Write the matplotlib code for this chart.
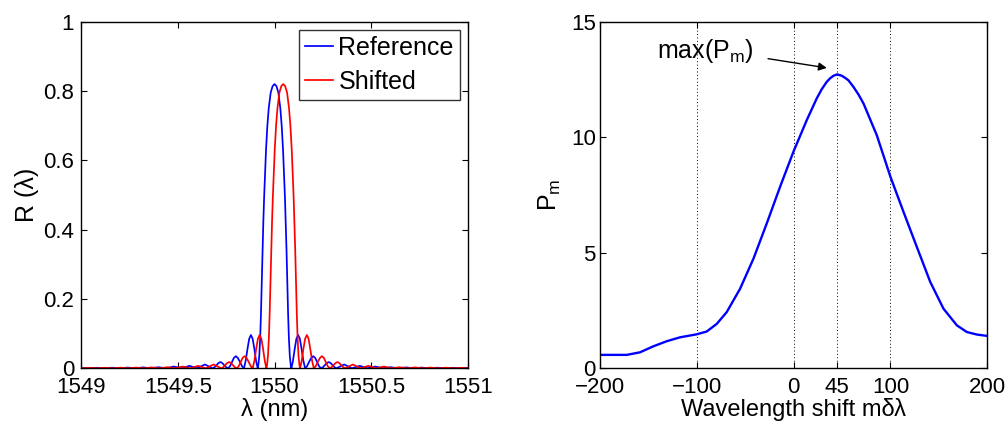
import matplotlib
matplotlib.use("Agg")
import matplotlib.pyplot as plt
import numpy as np

plt.rcParams['font.family'] = ['Liberation Sans', 'DejaVu Sans']
plt.rcParams['mathtext.fontset'] = 'custom'
plt.rcParams['mathtext.rm'] = 'Liberation Sans'
plt.rcParams['mathtext.it'] = 'Liberation Sans'

# ---------------- Left panel data: reflection spectrum (offset from Bragg centre, nm) -------------
spectrum_offset = [
    -1.10, -1.04, -1.00, -0.96, -0.92, -0.88, -0.84, -0.80, -0.76, -0.72, -0.68, -0.64, -0.60,
    -0.56, -0.54, -0.52, -0.50,
    -0.48, -0.46, -0.44, -0.42,
    -0.40, -0.38, -0.36, -0.34,
    -0.320, -0.310, -0.300, -0.290, -0.280, -0.270, -0.260, -0.250,
    -0.240, -0.230, -0.220, -0.210, -0.200, -0.190, -0.178, -0.168,
    -0.158, -0.149, -0.140, -0.131, -0.122, -0.113, -0.104, -0.095,
    -0.087, -0.084, -0.079, -0.074, -0.070, -0.066, -0.062, -0.058, -0.054, -0.049, -0.044,
    -0.037, -0.030, -0.020, -0.010,
    0.000,
    0.010, 0.020, 0.030, 0.037,
    0.044, 0.049, 0.054, 0.058, 0.062, 0.066, 0.070, 0.074, 0.079, 0.084, 0.087,
    0.095, 0.104, 0.113, 0.122, 0.131, 0.140, 0.149, 0.158,
    0.168, 0.178, 0.190, 0.200, 0.210, 0.220, 0.230, 0.240,
    0.250, 0.260, 0.270, 0.280, 0.290, 0.300, 0.310, 0.320,
    0.34, 0.36, 0.38, 0.40,
    0.42, 0.44, 0.46, 0.48,
    0.50, 0.52, 0.54, 0.56,
    0.60, 0.64, 0.68, 0.72, 0.76, 0.80, 0.84, 0.88, 0.92, 0.96, 1.00, 1.04, 1.10,
]
reflectance = [
    0.0, 0.0, 0.0012, 0.0, 0.0014, 0.0, 0.0017, 0.0, 0.0020, 0.0, 0.0025, 0.0, 0.0030,
    0.0, 0.0025, 0.005, 0.0025,
    0.0, 0.0035, 0.007, 0.0035,
    0.0, 0.0055, 0.011, 0.0055,
    0.0, 0.003, 0.009, 0.015, 0.018, 0.015, 0.009, 0.003,
    0.0, 0.006, 0.018, 0.030, 0.035, 0.030, 0.018, 0.006,
    0.0, 0.022, 0.055, 0.085, 0.096, 0.085, 0.055, 0.020,
    0.0, 0.008, 0.035, 0.090, 0.160, 0.250, 0.340, 0.420, 0.490, 0.560, 0.630,
    0.700, 0.750, 0.795, 0.814,
    0.820,
    0.814, 0.795, 0.750, 0.700,
    0.630, 0.560, 0.490, 0.420, 0.340, 0.250, 0.160, 0.090, 0.035, 0.008, 0.0,
    0.020, 0.055, 0.085, 0.096, 0.085, 0.055, 0.022, 0.0,
    0.006, 0.018, 0.030, 0.035, 0.030, 0.018, 0.006, 0.0,
    0.003, 0.009, 0.015, 0.018, 0.015, 0.009, 0.003, 0.0,
    0.0055, 0.011, 0.0055, 0.0,
    0.0035, 0.007, 0.0035, 0.0,
    0.0025, 0.005, 0.0025, 0.0,
    0.0030, 0.0, 0.0025, 0.0, 0.0020, 0.0, 0.0017, 0.0, 0.0014, 0.0, 0.0012, 0.0, 0.0,
]
reference_centre_nm = 1550.000
shifted_centre_nm = 1550.045

series_names = ["Reference", "Shifted"]
left_xticks = [1549, 1549.5, 1550, 1550.5, 1551]
left_xticklabels = ["1549", "1549.5", "1550", "1550.5", "1551"]
left_yticks = [0, 0.2, 0.4, 0.6, 0.8, 1]
left_yticklabels = ["0", "0.2", "0.4", "0.6", "0.8", "1"]

# ---------------- Right panel data: P_m versus wavelength shift -------------
shift_m = [-200, -172.4, -158.7, -144.9, -131.1, -117.3, -100.1, -89.8, -79.4, -69.1,
           -55.3, -41.5, -27.8, -14.0, -0.2, 13.6, 23.9, 29.1, 34.3, 37.7, 41.2, 45.0,
           49.8, 53.2, 56.7, 61.8, 67.0, 72.2, 85.9, 100.0, 113.5, 127.3, 141.1, 154.8,
           168.6, 178.9, 189.3, 200]
p_m = [0.58, 0.58, 0.69, 0.95, 1.17, 1.34, 1.47, 1.59, 1.92, 2.43,
       3.44, 4.74, 6.26, 7.85, 9.37, 10.74, 11.68, 12.08, 12.40, 12.55, 12.66, 12.72,
       12.66, 12.57, 12.46, 12.18, 11.85, 11.46, 10.09, 8.29, 6.77, 5.25, 3.74, 2.58,
       1.86, 1.57, 1.46, 1.40]
right_xticks = [-200, -100, 0, 45, 100, 200]
right_yticks = [0, 5, 10, 15]
grid_lines_x = [-100, 0, 45, 100]
peak_label_xy = (-141, 13.44)
peak_arrow_tail = (-26.4, 13.40)
peak_arrow_tip = (34.3, 13.0)

# ---------------- Figure -------------
fig = plt.figure(figsize=(10.08, 4.22), dpi=100)
axL = fig.add_axes([0.0804, 0.1273, 0.3839, 0.8213])
axR = fig.add_axes([0.5952, 0.1273, 0.3842, 0.8213])

off = np.array(spectrum_offset)
axL.plot(reference_centre_nm + off, reflectance, color=(0, 0, 1), lw=1.25, label=series_names[0])
axL.plot(shifted_centre_nm + off, reflectance, color=(1, 0, 0), lw=1.25, label=series_names[1])
axL.set_xlim(1549, 1551)
axL.set_ylim(0, 1)
axL.set_xticks(left_xticks)
axL.set_xticklabels(left_xticklabels)
axL.set_yticks(left_yticks)
axL.set_yticklabels(left_yticklabels)
axL.set_xlabel("λ (nm)", fontsize=17)
axL.set_ylabel("R (λ)", fontsize=18, labelpad=3)
leg = axL.legend(loc="upper right", fontsize=18, frameon=True, fancybox=False,
                 edgecolor='k', handlelength=1.12, handletextpad=0.2,
                 borderpad=0.25, labelspacing=0.4, borderaxespad=0.32)
leg.get_frame().set_linewidth(1.0)

axR.plot(shift_m, p_m, color=(0, 0, 1), lw=1.7)
axR.set_xlim(-200, 200)
axR.set_ylim(0, 15)
axR.set_xticks(right_xticks)
axR.set_yticks(right_yticks)
for gx in grid_lines_x:
    axR.axvline(gx, color='k', lw=0.7, ls=(0, (1, 2.5)), zorder=0)
axR.set_xlabel("Wavelength shift mδλ", fontsize=17)
axR.set_ylabel("P$_\\mathrm{m}$", fontsize=18, labelpad=6)
axR.annotate("", xy=peak_arrow_tip, xytext=peak_arrow_tail,
             arrowprops=dict(arrowstyle='-|>', color='k', lw=1.0, mutation_scale=12,
                             shrinkA=0, shrinkB=0))
axR.text(peak_label_xy[0], peak_label_xy[1], "max(P$_\\mathrm{m}$)", fontsize=18,
         ha='left', va='baseline')

# x labels anchored by their bottom edge just above the figure bottom
for ax in (axL, axR):
    ax.xaxis.label.set_verticalalignment('bottom')
    ax.xaxis.set_label_coords(0.5, -0.153)

for ax in (axL, axR):
    ax.tick_params(direction='in', top=True, right=True, length=4, width=0.8,
                   labelsize=16, pad=6.5)
    for s in ax.spines.values():
        s.set_linewidth(1.0)
axL.tick_params(axis='y', pad=5)
axR.tick_params(axis='y', pad=3)

fig.savefig("out.png", dpi=100)
